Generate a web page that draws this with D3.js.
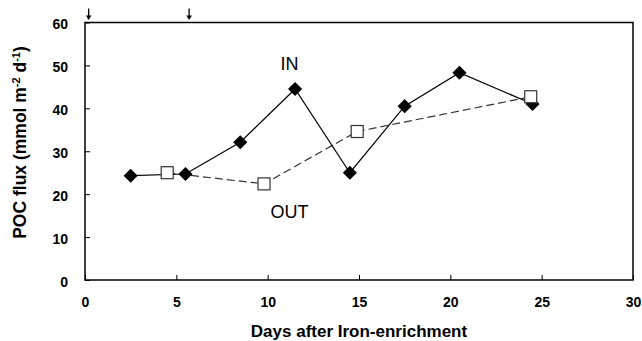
<!DOCTYPE html>
<html>
<head>
<meta charset="utf-8">
<script src="https://cdn.jsdelivr.net/npm/d3@7"></script>
<style>
  body { margin: 0; background: #fff; }
  svg { display: block; font-family: "Liberation Sans", Arial, sans-serif; }
</style>
</head>
<body>
<div class="chart"></div>
<script>
// POC flux inside (IN) and outside (OUT) the iron-enriched patch
var inDays = [2.5, 5.5, 8.5, 11.5, 14.5, 17.5, 20.5, 24.5];
var inFlux = [24.3, 24.7, 32.1, 44.5, 25.0, 40.5, 48.3, 41.0];

var outDays = [4.5, 9.8, 14.9, 24.4];
var outFlux = [25.0, 22.4, 34.6, 42.7];

// iron additions, marked by arrows above the frame
var arrowDays = [0.2, 5.7];

var xTicks = [0, 5, 10, 15, 20, 25, 30];
var yTicks = [0, 10, 20, 30, 40, 50, 60];

var labelText = ["IN", "OUT"];
var labelDay = [11.2, 11.2];
var labelFlux = [48.9, 14.4];

var W = 642, H = 341;
var margin = {top: 22.5, right: 9, bottom: 61, left: 85},
    width = W - margin.left - margin.right,
    height = H - margin.top - margin.bottom;

var svg = d3.select(".chart").append("svg")
    .attr("width", W)
    .attr("height", H);

var g = svg.append("g")
    .attr("transform", "translate(" + margin.left + "," + margin.top + ")");

var x = d3.scaleLinear().domain([0, 30]).range([0, width]);
var y = d3.scaleLinear().domain([0, 60]).range([height, 0]);

// axes, ticks point inward
var xAxis = g.append("g")
    .attr("transform", "translate(0," + height + ")")
    .call(d3.axisBottom(x).tickValues(xTicks).tickSizeInner(-5).tickSizeOuter(0).tickPadding(17));
var yAxis = g.append("g")
    .call(d3.axisLeft(y).tickValues(yTicks).tickSizeInner(-5).tickSizeOuter(0).tickPadding(17));

[xAxis, yAxis].forEach(function (a) {
    a.select(".domain").remove();
    a.selectAll(".tick line").attr("stroke", "#000").attr("stroke-width", 1);
    a.selectAll(".tick text")
        .attr("fill", "#000")
        .style("font-family", "'Liberation Sans', Arial, sans-serif")
        .style("font-size", "14px")
        .style("font-weight", "bold");
});
yAxis.selectAll(".tick text").attr("dy", "0.45em");

// frame
g.append("rect")
    .attr("width", width)
    .attr("height", height)
    .attr("fill", "none")
    .attr("stroke", "#000")
    .attr("stroke-width", 1.5);

// lines
var inData = inDays.map(function (d, i) { return [d, inFlux[i]]; });
var outData = outDays.map(function (d, i) { return [d, outFlux[i]]; });

var line = d3.line()
    .x(function (d) { return x(d[0]); })
    .y(function (d) { return y(d[1]); });

g.append("path")
    .datum(outData)
    .attr("d", line)
    .attr("fill", "none")
    .attr("stroke", "#333")
    .attr("stroke-width", 1.2)
    .attr("stroke-dasharray", "8,4");

g.append("path")
    .datum(inData)
    .attr("d", line)
    .attr("fill", "none")
    .attr("stroke", "#000")
    .attr("stroke-width", 1.2);

// markers
var diamond = d3.symbol().type(d3.symbolSquare).size(100);
g.selectAll(".in-pt")
    .data(inData)
    .enter().append("path")
    .attr("class", "in-pt")
    .attr("d", diamond)
    .attr("transform", function (d) { return "translate(" + x(d[0]) + "," + y(d[1]) + ") rotate(45)"; })
    .attr("fill", "#000");

g.selectAll(".out-pt")
    .data(outData)
    .enter().append("rect")
    .attr("class", "out-pt")
    .attr("x", function (d) { return x(d[0]) - 6; })
    .attr("y", function (d) { return y(d[1]) - 6; })
    .attr("width", 12)
    .attr("height", 12)
    .attr("fill", "#fff")
    .attr("stroke", "#333")
    .attr("stroke-width", 1.2);

// series labels
g.selectAll(".lbl")
    .data(labelText)
    .enter().append("text")
    .attr("x", function (d, i) { return x(labelDay[i]); })
    .attr("y", function (d, i) { return y(labelFlux[i]); })
    .attr("text-anchor", "middle")
    .style("font-size", "18px")
    .attr("fill", "#000")
    .text(function (d) { return d; });

// iron addition arrows
var arrows = g.selectAll(".arrow")
    .data(arrowDays)
    .enter().append("g")
    .attr("transform", function (d) { return "translate(" + x(d) + ",0)"; });
arrows.append("line")
    .attr("y1", -14).attr("y2", -6)
    .attr("stroke", "#000").attr("stroke-width", 1.3);
arrows.append("path")
    .attr("d", "M-2.8,-7 L2.8,-7 L0,-2.5 Z")
    .attr("fill", "#000");

// axis titles
svg.append("text")
    .attr("x", margin.left + width / 2)
    .attr("y", 337)
    .attr("text-anchor", "middle")
    .style("font-size", "17px")
    .style("font-weight", "bold")
    .text("Days after Iron-enrichment");

var yt = svg.append("text")
    .attr("transform", "translate(26,142.5) rotate(-90)")
    .attr("text-anchor", "middle")
    .style("font-size", "17.5px")
    .style("font-weight", "bold");
yt.append("tspan").text("POC flux (mmol m");
yt.append("tspan").attr("dy", -6).style("font-size", "11px").text("-2");
yt.append("tspan").attr("dy", 6).text(" d");
yt.append("tspan").attr("dy", -6).style("font-size", "11px").text("-1");
yt.append("tspan").attr("dy", 6).text(")");
</script>
</body>
</html>
